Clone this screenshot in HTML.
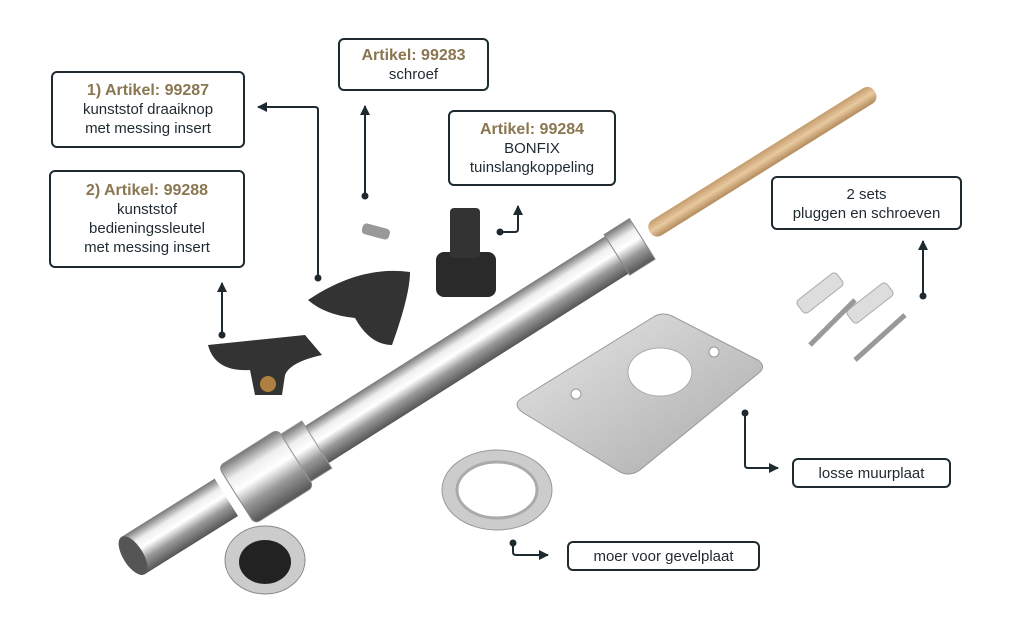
<!DOCTYPE html>
<html><head><meta charset="utf-8"><style>
body{margin:0;background:#fff;width:1025px;height:632px;overflow:hidden;position:relative;font-family:"Liberation Sans","DejaVu Sans",sans-serif}
.b{position:absolute;border:2px solid #1f2a30;border-radius:6px;background:#fff;text-align:center;color:#1f2a30;font-size:15px;line-height:19px;box-sizing:border-box}
.b b{color:#8a7650;font-size:16px}
svg{position:absolute;left:0;top:0}
</style></head><body>
<svg width="1025" height="632" viewBox="0 0 1025 632">
<defs>
<linearGradient id="chr" x1="0" y1="0" x2="0" y2="1"><stop offset="0" stop-color="#777"/><stop offset=".25" stop-color="#eee"/><stop offset=".45" stop-color="#fff"/><stop offset=".7" stop-color="#999"/><stop offset="1" stop-color="#555"/></linearGradient>
<linearGradient id="wood" x1="0" y1="0" x2="0" y2="1"><stop offset="0" stop-color="#c49c6c"/><stop offset=".5" stop-color="#e8c9a0"/><stop offset="1" stop-color="#b38a5a"/></linearGradient>
<linearGradient id="pl" x1="0" y1="0" x2="1" y2="1"><stop offset="0" stop-color="#e6e6e6"/><stop offset=".5" stop-color="#c8c8c8"/><stop offset="1" stop-color="#aaa"/></linearGradient>
<marker id="ar" viewBox="0 0 10 10" refX="9" refY="5" markerWidth="5" markerHeight="5" orient="auto"><path d="M0 0L10 5L0 10z" fill="#1f2a30"/></marker>
</defs>
<g transform="translate(650,232) rotate(-32)"><rect x="0" y="-9" width="265" height="18" rx="8" fill="url(#wood)"/></g>
<g transform="translate(245,490) rotate(-32.3)">
<rect x="0" y="-22" width="470" height="44" fill="url(#chr)"/>
<rect x="440" y="-24" width="30" height="48" fill="url(#chr)" stroke="#888"/>
<rect x="-10" y="-34" width="70" height="68" rx="6" fill="url(#chr)" stroke="#888"/>
<rect x="60" y="-28" width="25" height="56" fill="url(#chr)" stroke="#999"/>
</g>
<g transform="translate(150,545) rotate(-32)"><rect x="-20" y="-22" width="110" height="44" fill="url(#chr)"/><ellipse cx="-20" cy="0" rx="10" ry="22" fill="#555"/></g>
<ellipse cx="265" cy="560" rx="40" ry="34" fill="#ccc" stroke="#888"/>
<ellipse cx="265" cy="562" rx="26" ry="22" fill="#222"/>
<path d="M522 398 L655 316 Q663 312 672 316 L758 360 Q766 366 760 372 L640 470 Q630 477 620 472 L522 412 Q512 404 522 398Z" fill="url(#pl)" stroke="#999"/>
<ellipse cx="660" cy="372" rx="32" ry="24" fill="#fff" stroke="#aaa"/>
<circle cx="714" cy="352" r="5" fill="#fff" stroke="#999"/><circle cx="576" cy="394" r="5" fill="#fff" stroke="#999"/>
<ellipse cx="497" cy="490" rx="55" ry="40" fill="#ccc" stroke="#999"/>
<ellipse cx="497" cy="490" rx="40" ry="28" fill="#fff" stroke="#aaa" stroke-width="3"/>
<path d="M308 300 Q360 265 410 272 Q410 295 392 345 Q370 345 355 318 Q325 315 308 300Z" fill="#333"/>
<path d="M208 345 L305 335 L322 355 Q290 362 285 375 L282 395 L255 395 L250 370 Q215 372 208 345Z" fill="#333"/>
<circle cx="268" cy="384" r="8" fill="#b08040"/>
<rect x="436" y="252" width="60" height="45" rx="8" fill="#2a2a2a"/><rect x="450" y="208" width="30" height="50" rx="4" fill="#333"/>
<rect x="362" y="226" width="28" height="11" rx="4" fill="#999" transform="rotate(15 376 231)"/>
<g fill="#ddd" stroke="#aaa"><rect x="795" y="285" width="50" height="16" rx="4" transform="rotate(-38 820 293)"/><rect x="845" y="295" width="50" height="16" rx="4" transform="rotate(-38 870 303)"/></g>
<g stroke="#999" stroke-width="5"><line x1="810" y1="345" x2="855" y2="300"/><line x1="855" y1="360" x2="905" y2="315"/></g>
<g stroke="#1f2a30" stroke-width="2" fill="none">
<path d="M318 278 V110 Q318 107 315 107 H258" marker-end="url(#ar)"/>
<path d="M365 196 V106" marker-end="url(#ar)"/>
<path d="M500 232 H515 Q518 232 518 229 V206" marker-end="url(#ar)"/>
<path d="M923 296 V241" marker-end="url(#ar)"/>
<path d="M222 335 V283" marker-end="url(#ar)"/>
<path d="M745 413 V465 Q745 468 748 468 H778" marker-end="url(#ar)"/>
<path d="M513 543 V552 Q513 555 516 555 H548" marker-end="url(#ar)"/>
</g>
<g fill="#1f2a30"><circle cx="318" cy="278" r="3.5"/><circle cx="365" cy="196" r="3.5"/><circle cx="500" cy="232" r="3.5"/><circle cx="923" cy="296" r="3.5"/><circle cx="222" cy="335" r="3.5"/><circle cx="745" cy="413" r="3.5"/><circle cx="513" cy="543" r="3.5"/></g>
</svg>
<div class="b" style="left:51px;top:71px;width:194px;height:77px;padding-top:8px"><b>1) Artikel: 99287</b><br>kunststof draaiknop<br>met messing insert</div>
<div class="b" style="left:49px;top:170px;width:196px;height:98px;padding-top:9px"><b>2) Artikel: 99288</b><br>kunststof<br>bedieningssleutel<br>met messing insert</div>
<div class="b" style="left:338px;top:38px;width:151px;height:53px;padding-top:6px"><b>Artikel: 99283</b><br>schroef</div>
<div class="b" style="left:448px;top:110px;width:168px;height:76px;padding-top:8px"><b>Artikel: 99284</b><br>BONFIX<br>tuinslangkoppeling</div>
<div class="b" style="left:771px;top:176px;width:191px;height:54px;padding-top:7px">2 sets<br>pluggen en schroeven</div>
<div class="b" style="left:792px;top:458px;width:159px;height:30px;padding-top:4px">losse muurplaat</div>
<div class="b" style="left:567px;top:541px;width:193px;height:30px;padding-top:4px">moer voor gevelplaat</div>
</body></html>
